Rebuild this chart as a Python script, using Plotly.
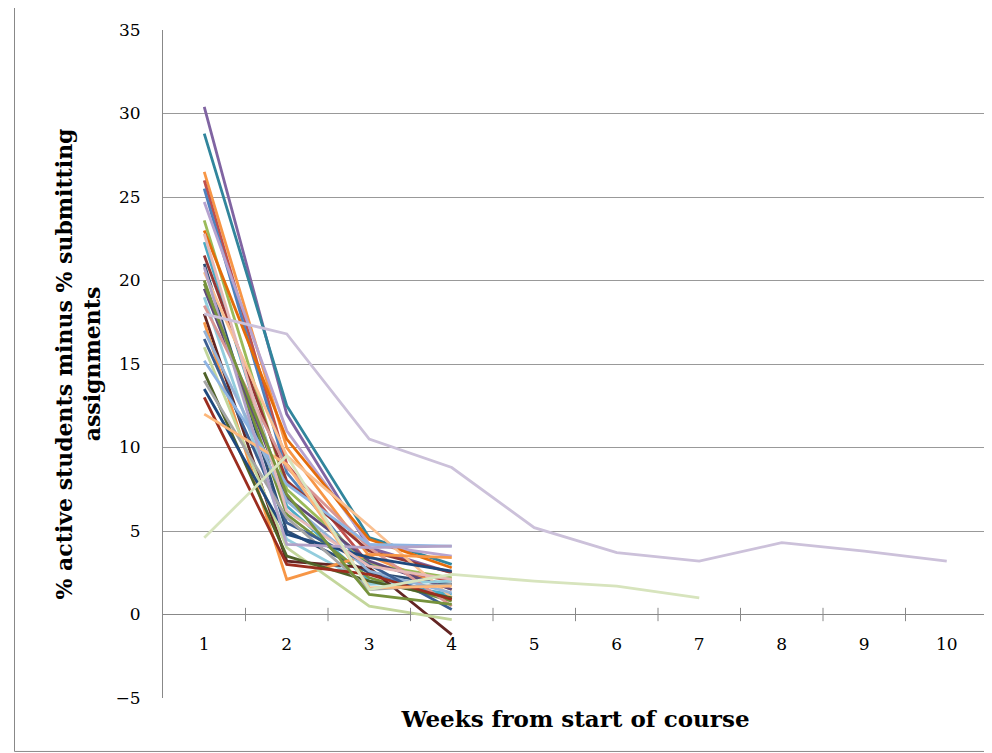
import plotly.graph_objects as go

weeks = [1,2,3,4,5,6,7,8,9,10]
# short series (weeks 1-4)
short_series = [
    [30.4, 12.0, 4.0, 2.5], [28.8, 12.5, 4.6, 3.0], [26.5, 10.0, 3.5, 1.5],
    [26.0, 9.0, 3.0, 2.0], [25.5, 8.5, 2.5, 1.0], [24.7, 11.0, 4.2, 3.5],
    [23.6, 7.5, 3.0, 2.2], [23.0, 10.5, 4.5, 2.8], [22.3, 6.5, 2.0, 1.2],
    [21.5, 8.0, 3.8, 2.5], [21.0, 5.0, 2.5, 1.8], [20.5, 9.5, 5.3, 1.0],
    [20.0, 6.0, 2.2, 0.8], [19.5, 7.0, 3.2, 1.5], [19.0, 4.5, 1.8, 2.0],
    [18.5, 8.8, 4.0, 0.5], [18.0, 3.2, 2.8, -1.2], [17.5, 2.1, 3.6, 3.4],
    [17.0, 6.8, 2.6, 1.3], [16.5, 5.5, 3.0, 0.3], [16.0, 4.0, 0.5, -0.3],
    [15.2, 7.8, 4.2, 4.1], [14.5, 3.5, 2.0, 1.0], [14.0, 5.8, 1.5, 1.8],
    [13.5, 4.8, 3.4, 2.6], [13.0, 3.0, 2.4, 0.9], [12.0, 9.0, 1.6, 1.7],
    [22.8, 6.2, 2.9, 2.1], [20.8, 4.2, 4.0, 4.1], [19.8, 7.2, 1.2, 0.6],
]
long_lavender = [18.0, 16.8, 10.5, 8.8, 5.2, 3.7, 3.2, 4.3, 3.8, 3.2]
long_green = [4.6, 9.5, 1.5, 2.4, 2.0, 1.7, 1.0]
colors = ["#8064A2","#31859C","#F79646","#C0504D","#4F81BD","#B7A3CF","#9BBB59",
          "#E46C0A","#4BACC6","#953735","#2C4D75","#FAC090","#77933C","#604A7B",
          "#93CDDD","#D99694","#632523","#F79646","#95B3D7","#3B5E91","#C3D69B",
          "#8EB4E3","#4F6228","#A5A5A5","#1F497D","#9B2D1F","#FDB77A","#E6B9B8",
          "#B3A2C7","#76923C"]

fig = go.Figure()
for i, s in enumerate(short_series):
    fig.add_trace(go.Scatter(x=weeks[:len(s)], y=s, mode="lines",
                             line=dict(color=colors[i % len(colors)], width=2.8)))
fig.add_trace(go.Scatter(x=weeks[:len(long_green)], y=long_green, mode="lines",
                         line=dict(color="#D7E4BD", width=2.8)))
fig.add_trace(go.Scatter(x=weeks, y=long_lavender, mode="lines",
                         line=dict(color="#CCC1DA", width=2.8)))

fig.add_trace(go.Scatter(x=weeks, y=[-1.9]*len(weeks), mode="text", text=[str(w) for w in weeks],
                         textfont=dict(family="DejaVu Serif", size=17, color="black")))

shapes = [dict(type="line", x0=w+0.5, x1=w+0.5, y0=-0.4, y1=0.4, xref="x", yref="y",
               line=dict(color="#888", width=1)) for w in weeks[:-1]]
shapes.append(dict(type="rect", xref="paper", yref="paper", x0=-0.18, x1=1.1, y0=-0.08, y1=1.2,
                   line=dict(color="#888", width=1)))

fig.update_layout(
    width=992, height=753, showlegend=False, plot_bgcolor="white", paper_bgcolor="white",
    margin=dict(l=155, r=12, t=22, b=63), shapes=shapes,
    font=dict(family="DejaVu Serif", color="black"),
    xaxis=dict(range=[0.5, 10.5], showticklabels=False, showgrid=False, zeroline=False,
               title=dict(text="<b>Weeks from start of course</b>", font=dict(size=23), standoff=12)),
    yaxis=dict(range=[-5, 35], dtick=5, showgrid=True, gridcolor="#999", gridwidth=1,
               zeroline=True, zerolinecolor="#888", zerolinewidth=1,
               showline=True, linecolor="#888", ticks="outside", ticklen=18, tickcolor="rgba(0,0,0,0)",
               tickfont=dict(size=17),
               title=dict(text="<b>% active students minus % submitting<br>assignments</b>",
                          font=dict(size=22), standoff=8)),
)
fig.write_html("out.html")
